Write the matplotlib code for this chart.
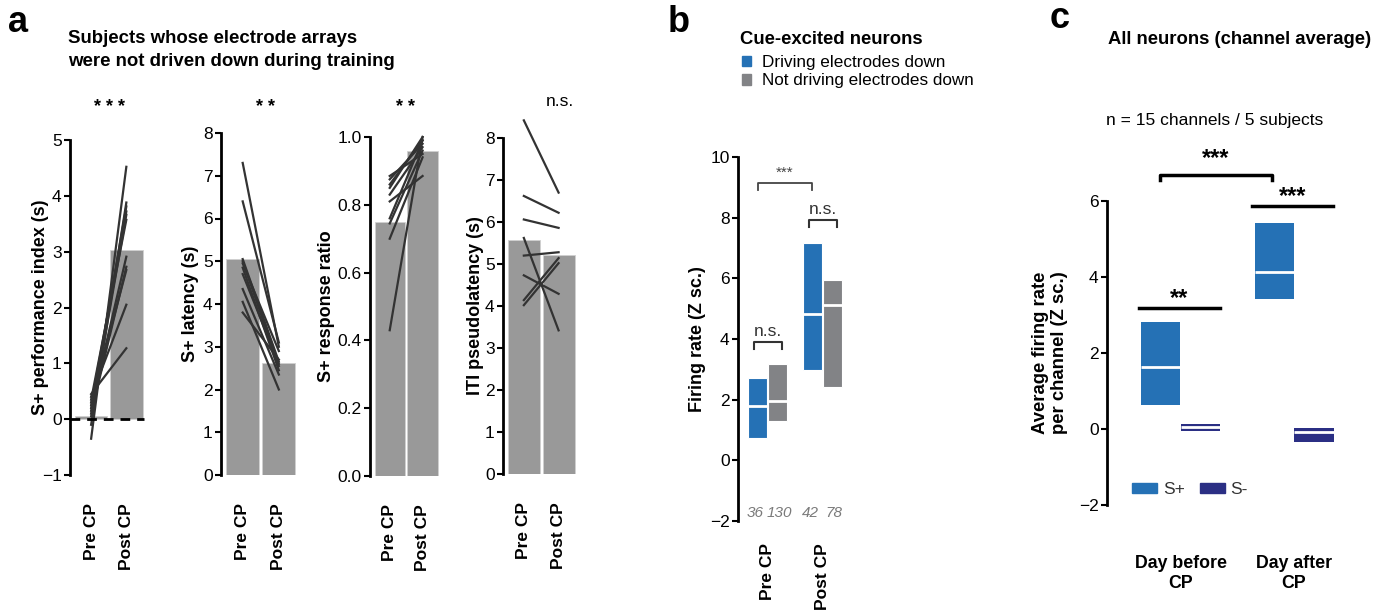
import numpy as np
import matplotlib
matplotlib.use('Agg')
import matplotlib.pyplot as plt
from matplotlib.patches import Patch

plt.rcParams['font.family'] = ['Liberation Sans', 'DejaVu Sans']

# ---- data ----
conds = ['Pre CP', 'Post CP']

perf_bar = [0.05, 3.03]
perf_pre = [0.45, 0.40, 0.35, 0.30, 0.25, 0.20, 0.15, 0.10, 0.05, -0.10, -0.35]
perf_post = [1.27, 2.05, 3.57, 2.67, 3.72, 2.91, 3.81, 2.73, 3.66, 3.88, 4.52]

lat_bar = [5.05, 2.62]
lat_pre = [7.3, 6.4, 5.05, 5.0, 4.95, 4.85, 4.7, 4.35, 4.05, 3.8]
lat_post = [3.0, 3.1, 2.65, 2.55, 2.9, 2.45, 2.6, 2.35, 2.0, 2.7]

ratio_bar = [0.75, 0.96]
ratio_pre = [0.885, 0.875, 0.86, 0.85, 0.83, 0.81, 0.76, 0.745, 0.70, 0.43]
ratio_post = [0.95, 0.98, 0.99, 1.0, 0.97, 0.885, 0.99, 0.96, 0.94, 1.0]

iti_bar = [5.57, 5.22]
iti_pre = [8.42, 6.62, 6.06, 5.62, 5.20, 4.73, 4.14, 4.02]
iti_post = [6.70, 6.22, 5.86, 3.42, 5.28, 4.29, 5.14, 5.02]

b_groups = ['Pre CP', 'Post CP']
drive_lo = [0.72, 2.97]
drive_hi = [2.71, 7.18]
drive_med = [1.78, 4.84]
drive_n = [36, 42]
nodrive_lo = [1.30, 2.43]
nodrive_hi = [3.16, 5.93]
nodrive_med = [1.94, 5.12]
nodrive_n = [130, 78]

c_groups = ['Day before\nCP', 'Day after\nCP']
splus_lo = [0.64, 3.43]
splus_hi = [2.82, 5.43]
splus_med = [1.63, 4.12]
sminus_lo = [-0.06, -0.33]
sminus_hi = [0.14, 0.02]
sminus_med = [0.04, -0.09]

BLUE = '#2571b5'
GREY = '#828386'
NAVY = '#2b2f84'
BARGREY = '#999999'

W, H = 1392, 613
fig = plt.figure(figsize=(W / 100, H / 100), dpi=100)


def add_ax(x0, y0, x1, y1):
    return fig.add_axes([x0 / W, 1 - y1 / H, (x1 - x0) / W, (y1 - y0) / H])


def ftext(x, y, s, **kw):
    fig.text(x / W, 1 - y / H, s, **kw)


def style(ax):
    for s in ['top', 'right', 'bottom']:
        ax.spines[s].set_visible(False)
    ax.spines['left'].set_linewidth(2)
    ax.tick_params(axis='y', width=1.5, length=4, labelsize=12.5, pad=2)
    ax.tick_params(axis='x', length=0)


def paired(box, bars, pre, post, ylim, yticks, ylabel, fmt=None, lpad=3):
    ax = add_ax(*box)
    x = np.arange(2)
    ax.bar(x, bars, width=0.92, color=BARGREY, edgecolor='#d0d0d0', lw=0.6)
    for a, b in zip(pre, post):
        ax.plot(x, [a, b], color='#333333', lw=1.6, clip_on=False)
    ax.set_xlim(-0.6, 1.53)
    ax.set_ylim(ylim)
    ax.set_yticks(yticks)
    if fmt:
        ax.set_yticklabels([fmt % t for t in yticks])
    ax.set_xticks(x)
    ax.set_xticklabels(conds, rotation=90, fontweight='bold', fontsize=12.5, va='top')
    style(ax)
    ax.tick_params(axis='x', pad=20)
    ax.set_ylabel(ylabel, fontweight='bold', fontsize=13, labelpad=lpad)
    return ax


# ---- panel a ----
ax1 = paired((70, 140, 145, 475), perf_bar, perf_pre, perf_post, (-1, 5), range(-1, 6),
             'S+ performance index (s)', lpad=-5)
ax1.plot([-0.6, 1.5], [0, 0], color='black', lw=2, ls=(0, (3.5, 2.5)), clip_on=False)
paired((221, 133, 298, 475), lat_bar, lat_pre, lat_post, (0, 8), range(0, 9), 'S+ latency (s)')
paired((370, 137, 440, 476), ratio_bar, ratio_pre, ratio_post, (0, 1),
       np.arange(0, 1.01, 0.2), 'S+ response ratio', '%.1f', lpad=1.5)
paired((503, 138, 577, 474), iti_bar, iti_pre, iti_post, (0, 8), range(0, 9),
       'ITI pseudolatency (s)', lpad=1)

for x, s in [(110, '* * *'), (265, '* *'), (405, '* *')]:
    ftext(x, 108, s, ha='center', va='center', fontsize=13, fontweight='bold')
ftext(560, 102, 'n.s.', ha='center', va='center', fontsize=12.5)

ftext(8, 22, 'a', fontsize=26, fontweight='bold', va='center', ha='left')
ftext(68, 50, 'Subjects whose electrode arrays\nwere not driven down during training',
      fontsize=13.4, fontweight='bold', va='center', ha='left', linespacing=1.4)

# ---- panel b ----
axb = add_ax(738, 157, 850, 521)
xg = np.arange(2)
off, w = 0.183, 0.35
for sign, lo, hi, med, col, ns in [(-1, drive_lo, drive_hi, drive_med, BLUE, drive_n),
                                    (1, nodrive_lo, nodrive_hi, nodrive_med, GREY, nodrive_n)]:
    xs = xg + sign * off
    lo, hi = np.array(lo), np.array(hi)
    axb.bar(xs, hi - lo, bottom=lo, width=w, color=col, edgecolor='white', lw=0.8)
    axb.hlines(med, xs - w / 2, xs + w / 2, color='white', lw=2)
    for xi, n in zip(xs, ns):
        axb.text(xi + sign * 0.04, -1.75, str(n), ha='center', va='center', fontsize=11,
                 style='italic', color='#7a7a7a')
axb.set_xlim(-0.54, 1.51)
axb.set_ylim(-2, 10)
axb.set_yticks(range(-2, 11, 2))
axb.set_xticks(xg)
axb.set_xticklabels(b_groups, rotation=90, fontweight='bold', fontsize=12.5, va='top')
style(axb)
axb.tick_params(axis='x', pad=16)
axb.set_ylabel('Firing rate (Z sc.)', fontweight='bold', fontsize=13, labelpad=3)


def bracket(ax, x0, x1, y, h, s, fs, col='#333333', lw=1.5, dy=0.1, weight='normal'):
    ax.plot([x0, x0, x1, x1], [y - h, y, y, y - h], color=col, lw=lw, clip_on=False)
    ax.text((x0 + x1) / 2, y + dy, s, ha='center', va='bottom', fontsize=fs, color=col,
            fontweight=weight)


bracket(axb, -off, 1 - off, 9.14, 0.22, '***', 11, col='#444444', lw=1.3)
bracket(axb, -0.25, 0.27, 3.9, 0.22, 'n.s.', 12.5)
bracket(axb, 0.76, 1.27, 7.92, 0.22, 'n.s.', 12.5)

ftext(668, 22, 'b', fontsize=26, fontweight='bold', va='center', ha='left')
ftext(740, 40, 'Cue-excited neurons', fontsize=13.3, fontweight='bold', va='center', ha='left')
fig.legend([Patch(color=BLUE), Patch(color=GREY)],
           ['Driving electrodes down', 'Not driving electrodes down'],
           loc='upper left', bbox_to_anchor=(742 / W, 1 - 55 / H), frameon=False,
           fontsize=12.3, handlelength=0.55, handleheight=0.55, handletextpad=0.6,
           labelspacing=0.2, borderpad=0, borderaxespad=0)

# ---- panel c ----
axc = add_ax(1107, 201, 1345, 505)
off, w = 0.176, 0.344
for sign, lo, hi, med, col in [(-1, splus_lo, splus_hi, splus_med, BLUE),
                               (1, sminus_lo, sminus_hi, sminus_med, NAVY)]:
    xs = xg + sign * off
    lo, hi = np.array(lo), np.array(hi)
    axc.bar(xs, hi - lo, bottom=lo, width=w, color=col, edgecolor='none')
    axc.hlines(med, xs - w / 2, xs + w / 2, color='white', lw=2)
axc.set_xlim(-0.648, 1.449)
axc.set_ylim(-2, 6)
axc.set_yticks(range(-2, 7, 2))
axc.set_xticks(xg)
axc.set_xticklabels(c_groups, fontweight='bold', fontsize=12.8, va='top', linespacing=1.25)
style(axc)
axc.tick_params(axis='x', pad=36)
axc.set_ylabel('Average firing rate\nper channel (Z sc.)', fontweight='bold', fontsize=13.3,
               labelpad=8, linespacing=1.15)

bracket(axc, -0.366, 0.348, 3.18, 0, '**', 17, col='black', lw=2.5, dy=-0.05, weight='bold')
bracket(axc, 0.63, 1.344, 5.87, 0, '***', 17, col='black', lw=2.5, dy=-0.05, weight='bold')
bracket(axc, -0.18, 0.806, 6.69, 0.15, '***', 17, col='black', lw=2.5, dy=0.12, weight='bold')

axc.legend([Patch(color=BLUE), Patch(color=NAVY)], ['S+', 'S-'], ncol=2,
           loc='center left', bbox_to_anchor=(0.07, 0.05), frameon=False, fontsize=12.5,
           handlelength=1.4, handleheight=0.5, handletextpad=0.35, columnspacing=0.9,
           labelcolor='#333333', borderpad=0)

ftext(1050, 18, 'c', fontsize=26, fontweight='bold', va='center', ha='left')
ftext(1240, 40, 'All neurons (channel average)', fontsize=13.3, fontweight='bold',
      va='center', ha='center')
ftext(1215, 120, 'n = 15 channels / 5 subjects', fontsize=12.5, va='center', ha='center')

fig.savefig('out.png', dpi=100)
